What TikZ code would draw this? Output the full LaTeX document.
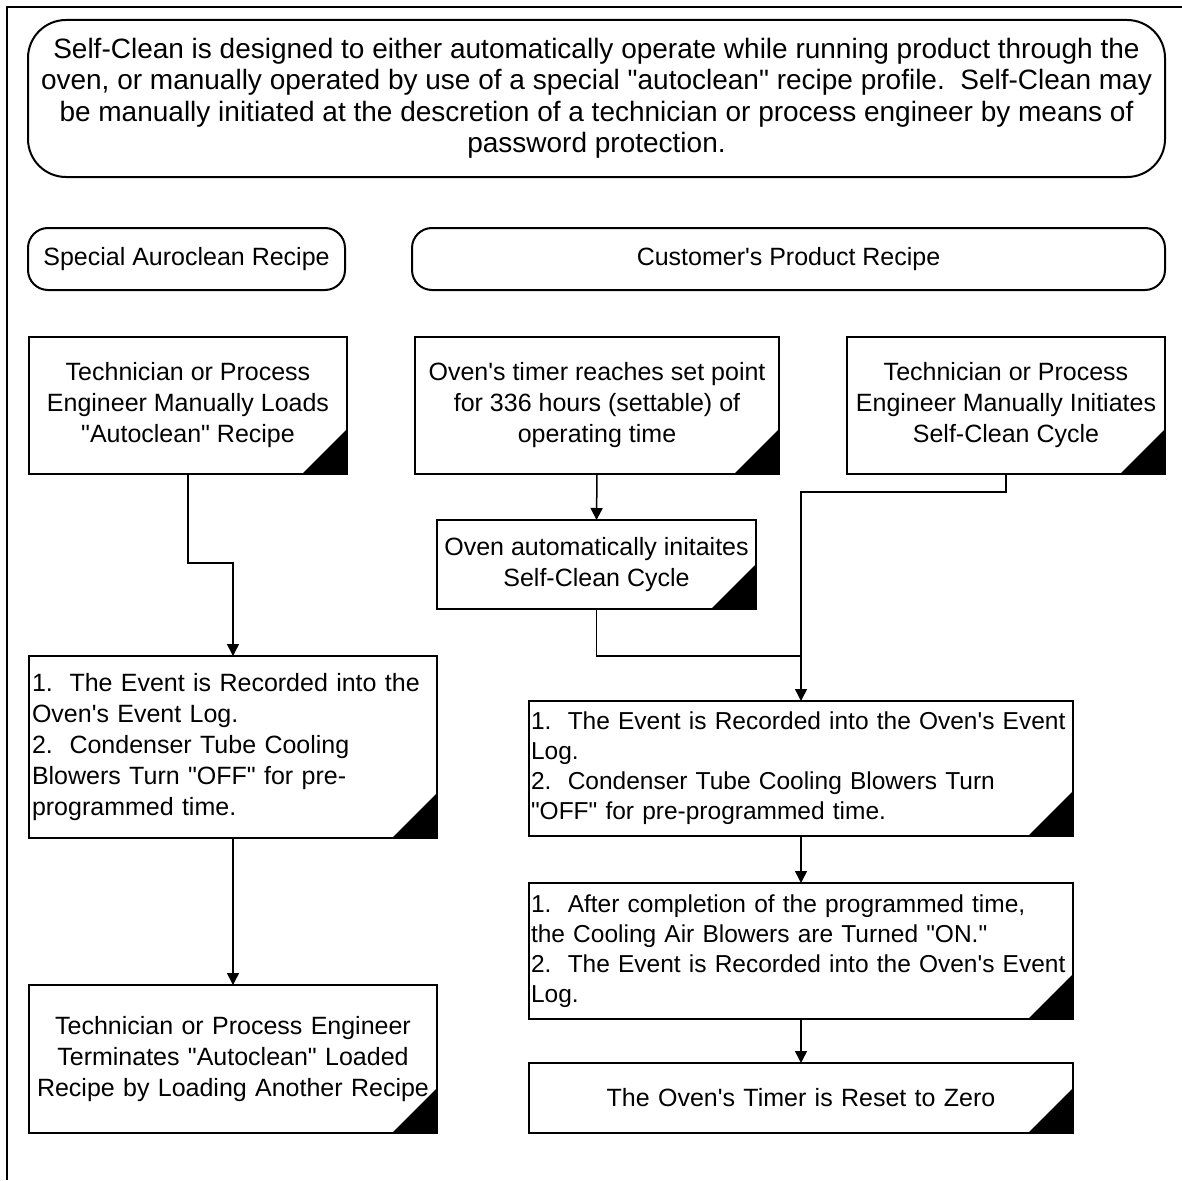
\documentclass[tikz,border=0pt]{standalone}
\usepackage{fontspec}
\setmainfont{Liberation Sans}[Ligatures=TeXOff]
\usetikzlibrary{arrows.meta}
\begin{document}
\begin{tikzpicture}[x=1pt,y=-1pt,
  txt/.style={font=\fontsize{25}{31}\selectfont},
  term/.style={txt, draw, line width=2pt, inner sep=0pt, outer sep=0pt, align=center},
  proc/.style={txt, draw, line width=2pt, inner xsep=3pt, inner ysep=0pt, outer sep=0pt,
    path picture={\fill (path picture bounding box.south east) -- ++(-45pt,0pt) -- ++(45pt,45pt) -- cycle;}},
  wide/.style={font=\fontsize{24.5}{30}\selectfont, inner xsep=2pt},
  arr/.style={line width=1.5pt, -{Triangle[length=12pt,width=12pt]}},
  conn/.style={line width=1.5pt}
]
\useasboundingbox (0,0) rectangle (1182,1180);
\draw[line width=2.5pt] (7,1180) -- (7,7) -- (1182,7);

\node[term, font=\fontsize{28}{31.5}\selectfont, minimum width=1137pt, minimum height=157pt, rounded corners=38pt] (intro) at (596.5,98.5)
 {Self-Clean is designed to either automatically operate while running product through the\\
  oven, or manually operated by use of a special "autoclean" recipe profile.\ \ Self-Clean may\\
  be manually initiated at the descretion of a technician or process engineer by means of\\
  password protection.};

\node[term, minimum width=317pt, minimum height=62pt, rounded corners=20pt] (special) at (186.5,259)
 {Special Auroclean Recipe};
\node[term, minimum width=753pt, minimum height=62pt, rounded corners=20pt] (customer) at (788.5,259)
 {Customer's Product Recipe};

\node[proc, align=center, minimum width=318pt, minimum height=137pt] (A) at (188,405.5)
 {Technician or Process\\Engineer Manually Loads\\"Autoclean" Recipe};
\node[proc, align=center, minimum width=364pt, minimum height=137pt] (B) at (597,405.5)
 {Oven's timer reaches set point\\for 336 hours (settable) of\\operating time};
\node[proc, align=center, minimum width=318pt, minimum height=137pt] (C) at (1006,405.5)
 {Technician or Process\\Engineer Manually Initiates\\Self-Clean Cycle};
\node[proc, align=center, minimum width=319pt, minimum height=89pt] (D) at (596.5,564.5)
 {Oven automatically initaites\\Self-Clean Cycle};

\node[proc, align=left, text width=402pt, minimum height=182pt] (F) at (233,747)
 {1.\ \ The Event is Recorded into the\\Oven's Event Log.\\2.\ \ Condenser Tube Cooling\\Blowers Turn "OFF" for pre-\\programmed time.};
\node[proc, align=center, text width=402pt, minimum height=148pt] (G) at (233,1059)
 {Technician or Process Engineer\\Terminates "Autoclean" Loaded\\Recipe by Loading Another Recipe};

\node[proc, wide, align=left, text width=540pt, minimum height=135pt] (E) at (801,768.5)
 {\mbox{1.\ \ The Event is Recorded into the Oven's Event}\\Log.\\2.\ \ Condenser Tube Cooling Blowers Turn\\"OFF" for pre-programmed time.};
\node[proc, wide, align=left, text width=540pt, minimum height=136pt] (H) at (801,951)
 {\mbox{1.\ \ After completion of the programmed time,}\\the Cooling Air Blowers are Turned "ON."\\\mbox{2.\ \ The Event is Recorded into the Oven's Event}\\Log.};
\node[proc, align=center, text width=538pt, minimum height=70pt] (I) at (801,1098)
 {The Oven's Timer is Reset to Zero};

\coordinate (jA) at (233,563);
\coordinate (jC) at (801,492);
\coordinate (jD) at (801,656);

\draw[arr] (A.south) |- (jA) -- (F.north);
\draw[arr] (F.south) -- (G.north);
\draw[arr] (B.south) -- (D.north);
\draw[conn] (D.south) |- (jD);
\draw[arr] (C.south) |- (jC) -- (E.north);
\draw[arr] (E.south) -- (H.north);
\draw[arr] (H.south) -- (I.north);
\end{tikzpicture}
\end{document}
